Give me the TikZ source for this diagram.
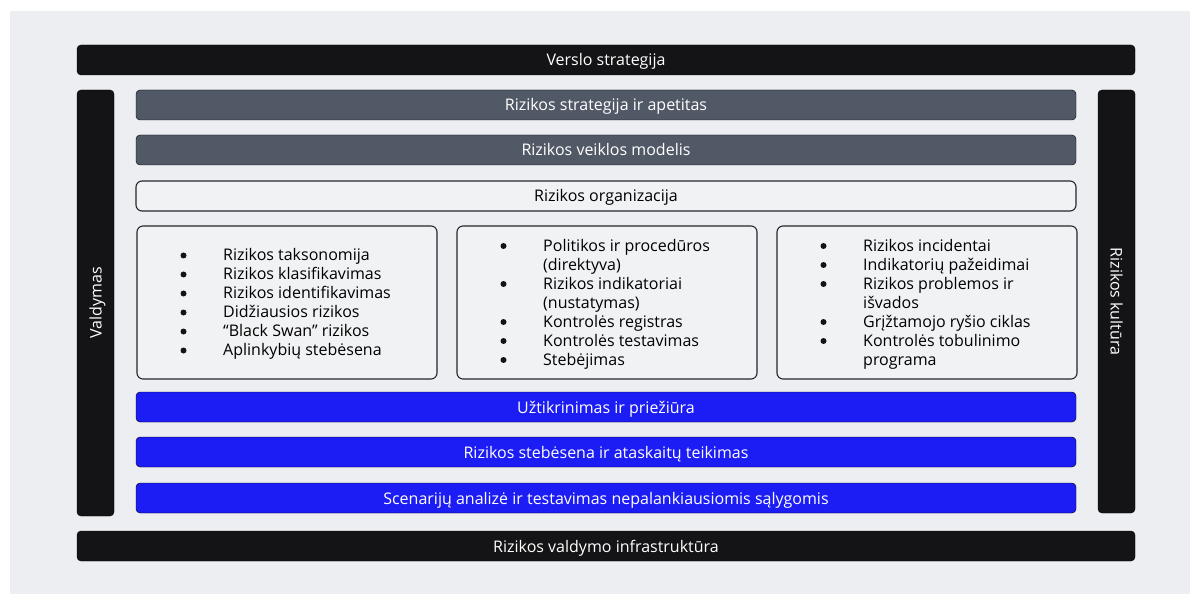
\documentclass[tikz,border=0pt]{standalone}
\usepackage{fontspec}
\setmainfont{Open Sans}
\definecolor{bg}{HTML}{ECEEF1}
\definecolor{barblack}{HTML}{141416}
\definecolor{bargray}{HTML}{515967}
\definecolor{barblue}{HTML}{1C1CF5}
\definecolor{boxfill}{HTML}{F1F2F4}
\definecolor{boxline}{HTML}{26262A}
\tikzset{
  bar/.style={rounded corners=4pt, text=white, inner sep=0pt},
  blackbar/.style={bar, fill=barblack},
  graybar/.style={bar, fill=bargray},
  bluebar/.style={bar, fill=barblue},
  outlinebox/.style={rounded corners=6pt, draw=boxline, line width=1.1pt, fill=boxfill},
  lbl/.style={inner sep=0pt, anchor=base, font=\fontsize{16}{19}\selectfont},
  listtxt/.style={inner sep=0pt, anchor=north west, align=left, font=\fontsize{16}{19}\selectfont},
  bulletdot/.style={fill=barblack}
}
\begin{document}
\begin{tikzpicture}[x=1pt,y=-1pt]
\useasboundingbox (0,0) rectangle (1200,604);
\fill[white] (0,0) rectangle (1200,604);
\fill[bg] (10,11) rectangle (1190,594);
% top and bottom bars
\draw[blackbar] (77,45) rectangle (1135,75);
\node[lbl, text=white] (vs) at (606,66) {Verslo strategija};
\draw[blackbar] (77,531) rectangle (1135,561);
\node[lbl, text=white] (rvi) at (606,552) {Rizikos valdymo infrastruktūra};
% side bars
\draw[blackbar] (77,90) rectangle (114,516);
\node[lbl, text=white, rotate=90] (vald) at (101.5,303) {Valdymas};
\draw[blackbar] (1098,90) rectangle (1135,513);
\node[lbl, text=white, rotate=-90] (kult) at (1110.5,301.5) {Rizikos kultūra};
% gray bars
\draw[graybar] (136,90) rectangle (1076,120);
\node[lbl, text=white] (rsa) at (606,111) {Rizikos strategija ir apetitas};
\draw[graybar] (136,135) rectangle (1076,165);
\node[lbl, text=white] (rvm) at (606,156) {Rizikos veiklos modelis};
% organizacija
\draw[outlinebox] (136,181) rectangle (1076,211);
\node[lbl] (rorg) at (606,202) {Rizikos organizacija};
% three boxes
\draw[outlinebox] (137,226) rectangle (437,379);
\draw[outlinebox] (457,226) rectangle (757,379);
\draw[outlinebox] (777,226) rectangle (1077,379);
\node[listtxt] (l1) at (223,248.5) {%
Rizikos taksonomija\\
Rizikos klasifikavimas\\
Rizikos identifikavimas\\
Didžiausios rizikos\\
“Black Swan” rizikos\\
Aplinkybių stebėsena};
\node[listtxt] (l2) at (543,239) {%
Politikos ir procedūros\\
(direktyva)\\
Rizikos indikatoriai\\
(nustatymas)\\
Kontrolės registras\\
Kontrolės testavimas\\
Stebėjimas};
\node[listtxt] (l3) at (863,239) {%
Rizikos incidentai\\
Indikatorių pažeidimai\\
Rizikos problemos ir\\
išvados\\
Grįžtamojo ryšio ciklas\\
Kontrolės tobulinimo\\
programa};
% bullets
\foreach \k in {0,...,5} \fill[bulletdot] (183.5,{255.5+19*\k}) circle (3pt);
\foreach \k in {0,2,4,5,6} \fill[bulletdot] (503.5,{246+19*\k}) circle (3pt);
\foreach \k in {0,1,2,4,5} \fill[bulletdot] (823.5,{246+19*\k}) circle (3pt);
% blue bars
\draw[bluebar] (136,392) rectangle (1076,422);
\node[lbl, text=white] (uip) at (606,413) {Užtikrinimas ir priežiūra};
\draw[bluebar] (136,437) rectangle (1076,467);
\node[lbl, text=white] (rsat) at (606,458) {Rizikos stebėsena ir ataskaitų teikimas};
\draw[bluebar] (136,483) rectangle (1076,513);
\node[lbl, text=white] (sat) at (606,504) {Scenarijų analizė ir testavimas nepalankiausiomis sąlygomis};
\end{tikzpicture}
\end{document}
